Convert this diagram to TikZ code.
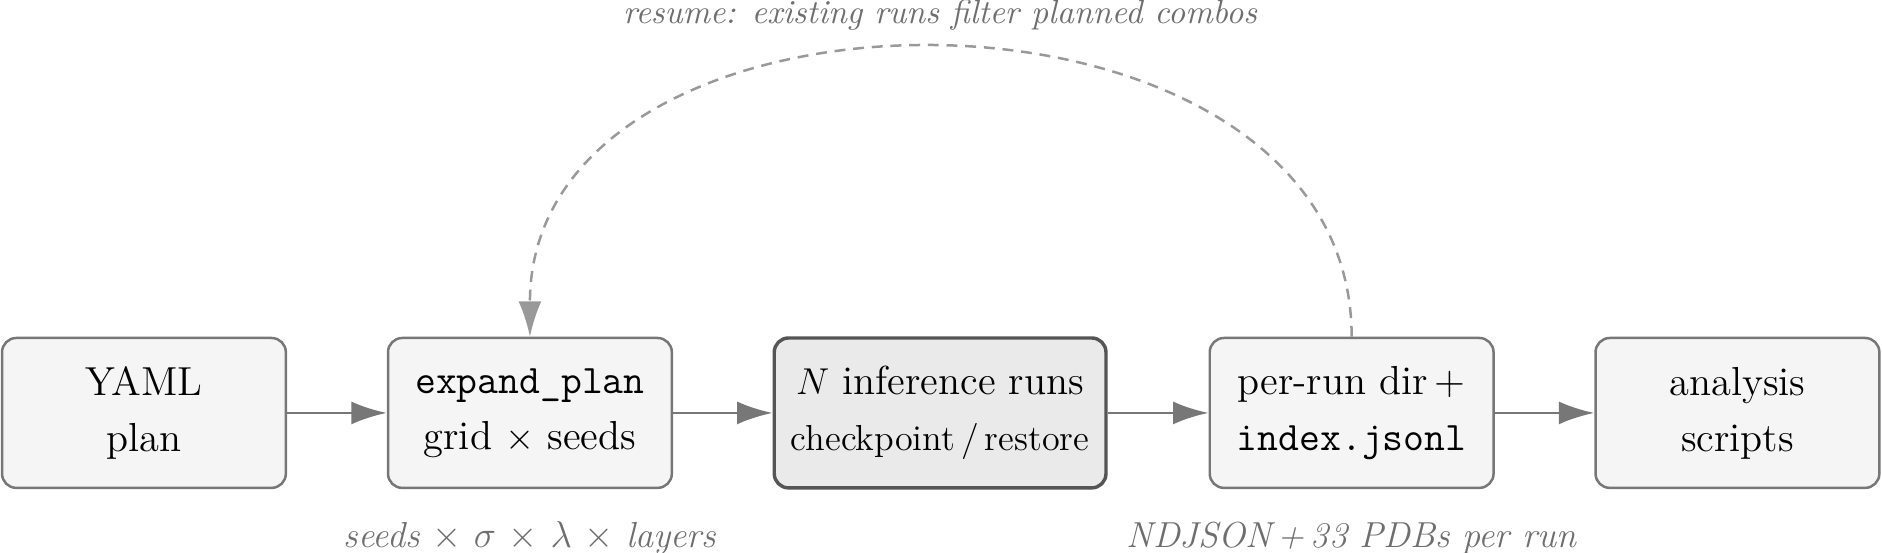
\documentclass[tikz,border=0pt]{standalone}
\usepackage{tikz}
\usetikzlibrary{arrows.meta,positioning,calc}
\usepackage{xcolor}
\definecolor{boxfill}{HTML}{F5F5F5}
\definecolor{runfill}{HTML}{EAEAEA}
\definecolor{edge}{HTML}{777777}
\definecolor{runedge}{HTML}{555555}
\definecolor{note}{HTML}{6E6E6E}
\definecolor{loopgray}{HTML}{999999}
\tikzset{
  box/.style={draw=edge, rounded corners=1.6mm, line width=0.8pt, align=center, fill=boxfill, minimum width=3.2cm, minimum height=1.69cm, inner sep=1mm, font=\fontsize{13}{18}\selectfont},
  runbox/.style={box, fill=runfill, draw=runedge, line width=1.1pt, minimum width=3.74cm},
  arrow/.style={-{Latex[length=4mm, width=2.6mm]}, line width=0.9pt, draw=edge},
  loop/.style={-{Latex[length=4mm, width=2.6mm]}, line width=0.8pt, draw=loopgray, dash pattern=on 3.5pt off 2.5pt},
  notelabel/.style={text=note, font=\fontsize{11.6}{14}\itshape}
}
\begin{document}
\begin{tikzpicture}
  \useasboundingbox (0,0) rectangle (21.22,6.234);
  \node[box] (yaml) at (1.623,1.578) {YAML\\plan};
  \node[box] (expand) at (5.975,1.578) {\texttt{expand\_plan}\\grid $\times$ seeds};
  \node[runbox] (runs) at (10.60,1.578) {$N$ inference runs\\{\fontsize{11.6}{14}\selectfont checkpoint\,/\,restore}};
  \node[box] (perrun) at (15.24,1.578) {per-run dir\,+\\\texttt{index.jsonl}};
  \node[box] (analysis) at (19.59,1.578) {analysis\\scripts};
  \draw[arrow] (yaml) -- (expand);
  \draw[arrow] (expand) -- (runs);
  \draw[arrow] (runs) -- (perrun);
  \draw[arrow] (perrun) -- (analysis);
  % resume loop
  \draw[loop] (perrun.north) .. controls +(0,4.32) and +(0,4.32) .. (expand.north);
  \node[notelabel, font=\fontsize{10.75}{13}\itshape] (resume) at (10.60,6.06) {resume: existing runs filter planned combos};
  \node[notelabel] (grid) at (5.975,0.17) {seeds $\times$ $\sigma$ $\times$ $\lambda$ $\times$ layers};
  \node[notelabel] (output) at (15.24,0.17) {NDJSON\,+\,33 PDBs per run};
\end{tikzpicture}
\end{document}
